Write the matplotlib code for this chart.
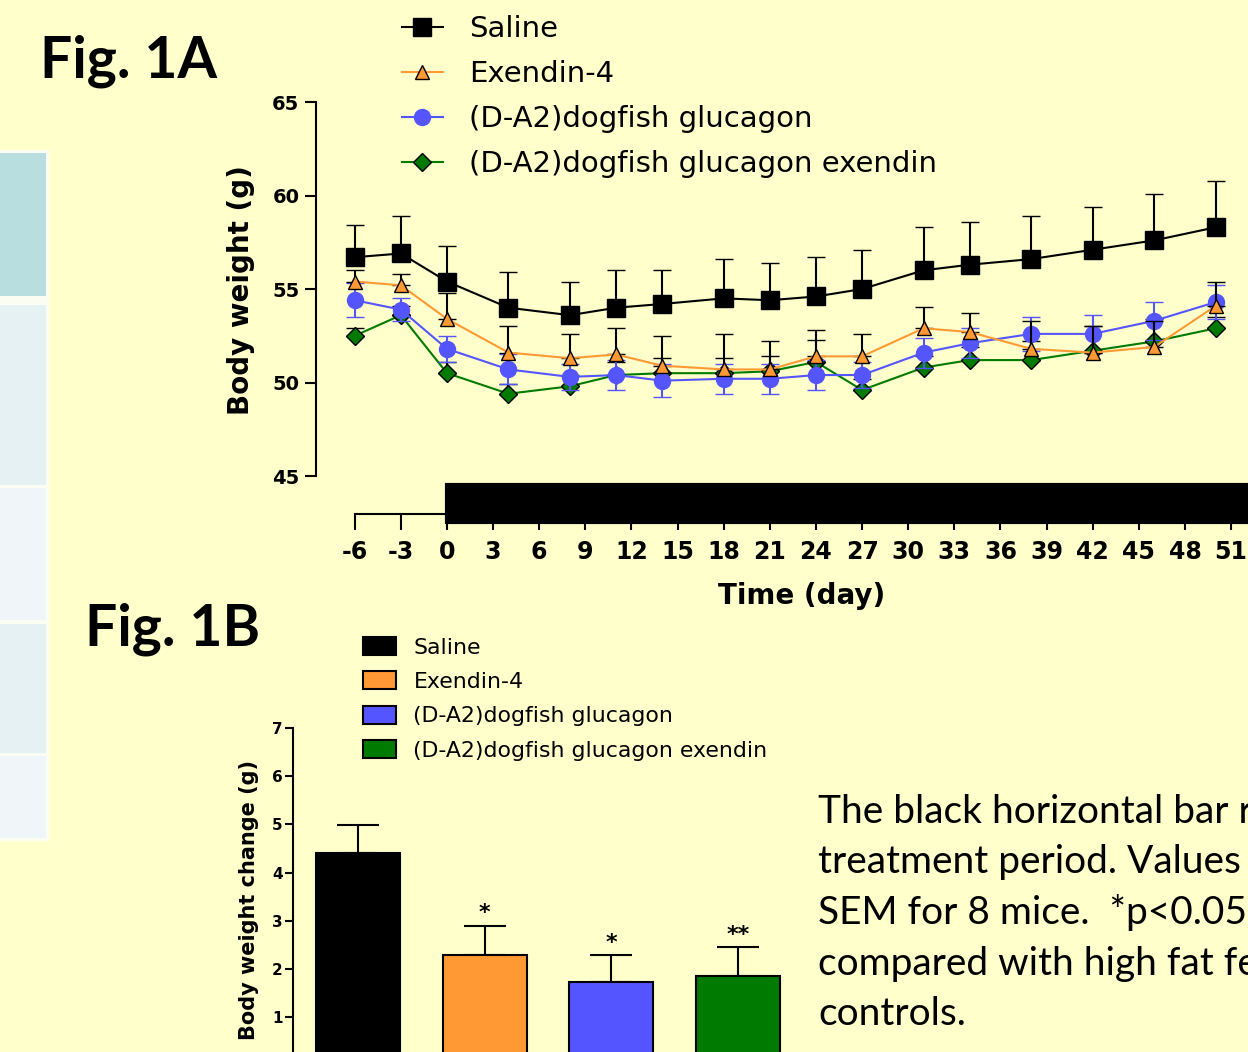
import numpy as np
import matplotlib.pyplot as plt
from matplotlib.patches import Rectangle, Patch

plt.rcParams['font.family'] = ['DejaVu Sans']
plt.rcParams['axes.unicode_minus'] = False

# ---- Fig. 1A : body weight over time ----
days = [-6, -3, 0, 4, 8, 11, 14, 18, 21, 24, 27, 31, 34, 38, 42, 46, 50]
saline = [56.7, 56.9, 55.4, 54.0, 53.6, 54.0, 54.2, 54.5, 54.4, 54.6, 55.0,
          56.0, 56.3, 56.6, 57.1, 57.6, 58.3]
saline_sem = [1.7, 2.0, 1.9, 1.9, 1.8, 2.0, 1.8, 2.1, 2.0, 2.1, 2.1,
              2.3, 2.3, 2.3, 2.3, 2.5, 2.5]
exendin = [55.4, 55.2, 53.4, 51.6, 51.3, 51.5, 50.9, 50.7, 50.7, 51.4, 51.4,
           52.9, 52.7, 51.8, 51.6, 51.9, 54.1]
exendin_sem = [0.6, 0.6, 1.4, 1.4, 1.3, 1.4, 1.6, 1.9, 1.5, 1.4, 1.2,
               1.15, 1.0, 1.5, 1.4, 1.4, 1.3]
glucagon = [54.4, 53.9, 51.8, 50.7, 50.3, 50.4, 50.1, 50.2, 50.2, 50.4, 50.4,
            51.6, 52.1, 52.6, 52.6, 53.3, 54.3]
glucagon_sem = [0.9, 0.6, 0.7, 0.8, 0.7, 0.8, 0.9, 0.8, 0.8, 0.8, 0.7,
                0.8, 0.8, 0.9, 1.0, 1.0, 0.9]
gluc_exendin = [52.5, 53.6, 50.5, 49.4, 49.8, 50.4, 50.5, 50.5, 50.6, 51.1, 49.6,
                50.8, 51.2, 51.2, 51.7, 52.2, 52.9]
gluc_exendin_sem = [0.4, 0.5, 0.6, 0.5, 0.6, 0.7, 0.8, 0.8, 0.8, 1.2, 0.6,
                    0.6, 0.7, 1.0, 1.3, 1.2, 0.6]
treatment_start = 0

groups = ['Saline', 'Exendin-4', '(D-A2)dogfish glucagon',
          '(D-A2)dogfish glucagon exendin']
colors = ['#000000', '#FF9933', '#5555FF', '#007A00']

# ---- Fig. 1B : body weight change ----
weight_change = [4.40, 2.28, 1.72, 1.84]
weight_change_sem = [0.59, 0.61, 0.56, 0.61]
stars = ['', '*', '*', '**']

caption = ['The black horizontal bar represents the',
           'treatment period. Values are mean \u00b1',
           'SEM for 8 mice.  *p<0.05, **p<0.01',
           'compared with high fat fed',
           'controls.']

W, H = 1248, 1052
BG = '#FFFFCC'

fig = plt.figure(figsize=(W / 100, H / 100), dpi=100, facecolor=BG)


def fx(px):
  return px / W


def fy(px):
  return 1 - px / H


# edge of a table from the poster, left side
fig.add_artist(Rectangle((0, fy(841)), fx(49), fy(150) - fy(841),
                         transform=fig.transFigure, color='#FBFCF2', lw=0))
for y0, y1, c in [(153, 296, '#B9DEE0'), (305, 485, '#E5F1F3'),
                  (488, 620, '#EFF5F9'), (624, 753, '#E5F1F3'),
                  (756, 838, '#EFF5F9')]:
  fig.add_artist(Rectangle((0, fy(y1)), fx(46), fy(y0) - fy(y1),
                           transform=fig.transFigure, color=c, lw=0))

# ------------------------------------------------------------------ 1A
ax = fig.add_axes([fx(316), fy(514), fx(W - 316), fy(102) - fy(514)])
ax.set_facecolor('none')
ax.set_xlim(-8.52, 52.1)
ax.set_ylim(42.97, 65)

series = [saline, exendin, glucagon, gluc_exendin]
sems = [saline_sem, exendin_sem, glucagon_sem, gluc_exendin_sem]
styles = [
  dict(marker='s', ms=13, mfc=colors[0], mec='black', mew=1, ecolor='black', both=False, z=6),
  dict(marker='^', ms=10, mfc=colors[1], mec='black', mew=1, ecolor='black', both=False, z=5),
  dict(marker='o', ms=11.5, mfc=colors[2], mec=colors[2], mew=1, ecolor=colors[2], both=True, z=4),
  dict(marker='D', ms=9.5, mfc=colors[3], mec='black', mew=1, ecolor='black', both=False, z=3),
]
handles = []
for y, sem, col, st in zip(series, sems, colors, styles):
  sem = np.array(sem)
  lower = sem if st['both'] else np.zeros_like(sem)
  cont = ax.errorbar(days, y, yerr=[lower, sem], color=col, lw=1.5,
                     marker=st['marker'], ms=st['ms'], mfc=st['mfc'],
                     mec=st['mec'], mew=st['mew'], ecolor=st['ecolor'],
                     elinewidth=1.5, capsize=6.5, capthick=1.5, zorder=st['z'])
  handles.append(cont[0])

for s in ['top', 'right']:
  ax.spines[s].set_visible(False)
ax.spines['left'].set_bounds(45, 65)
ax.spines['bottom'].set_bounds(-6, 52.1)
for s in ['left', 'bottom']:
  ax.spines[s].set_linewidth(1.5)

ax.set_yticks(range(45, 66, 5))
ax.set_xticks(range(-6, 52, 3))
ax.tick_params(axis='y', length=8, width=1.5, pad=4, labelsize=14)
ax.tick_params(axis='x', length=11.5, width=1.5, pad=7, labelsize=17)
for lab in ax.get_xticklabels() + ax.get_yticklabels():
  lab.set_fontweight('bold')

# treatment period bar
ax.add_patch(Rectangle((treatment_start, -0.0194), 60, 0.0898,
                       transform=ax.get_xaxis_transform(), facecolor='black',
                       edgecolor='black', lw=3, clip_on=False, zorder=3))

ax.set_ylabel('Body weight (g)', fontsize=20, fontweight='bold')
ax.yaxis.set_label_coords((255 - 316) / (W - 316), (514 - 290.5) / 412)
ax.set_xlabel('Time (day)', fontsize=20, fontweight='bold')
ax.xaxis.set_label_coords((802 - 316) / (W - 316), (514 - 582) / 412)

fig.legend(handles=handles, labels=groups, loc='upper left',
           bbox_to_anchor=(fx(402), fy(15)), frameon=False, fontsize=21,
           handlelength=1.4, handletextpad=0.9, labelspacing=0.58,
           borderpad=0, borderaxespad=0)

# ------------------------------------------------------------------ 1B
bx = fig.add_axes([fx(293), fy(1064.8), fx(814 - 293), fy(728.3) - fy(1064.8)])
bx.set_facecolor('none')
bx.set_xlim(-0.513, 3.6)
bx.set_ylim(0, 7)
xpos = np.arange(len(weight_change))
bx.bar(xpos, weight_change, width=0.663, color=colors, edgecolor='black',
       linewidth=1.5, zorder=2)
bx.errorbar(xpos, weight_change,
            yerr=[np.zeros(len(weight_change)), weight_change_sem],
            fmt='none', ecolor='black', elinewidth=1.5, capsize=15,
            capthick=1.5, zorder=1)
for i, (v, e, s) in enumerate(zip(weight_change, weight_change_sem, stars)):
  if s:
    bx.annotate(s, (i, v + e), xytext=(0, 9), textcoords='offset points',
                ha='center', va='center', fontsize=16, fontweight='bold')

for s in ['top', 'right', 'bottom']:
  bx.spines[s].set_visible(False)
bx.spines['left'].set_linewidth(1.5)
bx.set_xticks([])
bx.set_yticks(range(1, 8))
bx.tick_params(axis='y', length=6, width=1.5, pad=1.5, labelsize=11)
for lab in bx.get_yticklabels():
  lab.set_fontweight('bold')
bx.set_ylabel('Body weight change (g)', fontsize=15, fontweight='bold')
bx.yaxis.set_label_coords((259 - 293) / (814 - 293), (1064.8 - 900) / 336.5)

fig.legend(handles=[Patch(facecolor=c, edgecolor='black', lw=1.5) for c in colors],
           labels=groups, loc='upper left', bbox_to_anchor=(fx(363), fy(637)),
           frameon=False, fontsize=15.8, handlelength=1.5, handleheight=0.9,
           handletextpad=0.8, labelspacing=0.62, borderpad=0, borderaxespad=0)

# ------------------------------------------------------------------ texts
fig.text(fx(40), fy(77), 'Fig. 1A', family='Lato', fontweight='bold',
         fontsize=41, va='baseline')
fig.text(fx(85), fy(646), 'Fig. 1B', family='Lato', fontweight='bold',
         fontsize=41, va='baseline')
for k, line in enumerate(caption):
  fig.text(fx(818), fy(823 + 50.5 * k), line, family='Lato', fontsize=28,
           va='baseline')

fig.savefig('out.png', dpi=100, facecolor=BG)
